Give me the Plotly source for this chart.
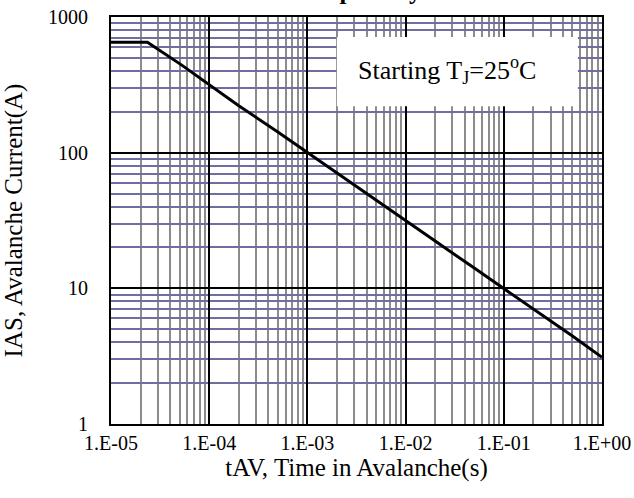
import plotly.graph_objects as go

# Data
t_av = [1e-5, 2.35e-5, 5.3e-5, 1e-4, 2e-4, 5e-4, 1e-3, 2e-3, 5e-3,
        1e-2, 2e-2, 5e-2, 1e-1, 2e-1, 5e-1, 1.0]
i_as = [652, 652, 440, 316, 222, 142, 100, 70.5, 44.5,
        31.5, 22.3, 14.1, 10.0, 7.05, 4.45, 3.1]

x_tickvals = [1e-5, 1e-4, 1e-3, 1e-2, 1e-1, 1]
x_ticktext = ["1.E-05", "1.E-04", "1.E-03", "1.E-02", "1.E-01", "1.E+00"]
y_tickvals = [1, 10, 100, 1000]
y_ticktext = ["1", "10", "100", "1000"]

FONT = "Liberation Serif, Times New Roman, serif"

fig = go.Figure()
fig.add_trace(go.Scatter(x=t_av, y=i_as, mode="lines",
                         line=dict(color="black", width=3), showlegend=False))

fig.update_layout(
    width=634, height=498,
    margin=dict(l=111, r=32, t=17, b=74, autoexpand=False),
    paper_bgcolor="white", plot_bgcolor="white",
    font=dict(family=FONT, color="black", size=20),
)

fig.update_xaxes(
    type="log", range=[-5, 0], automargin=False,
    tickvals=x_tickvals, ticktext=x_ticktext, ticklabeloverflow="allow",
    tickfont=dict(size=20), ticks="", ticklabelstandoff=0,
    showgrid=True, gridcolor="black", gridwidth=1.5,
    minor=dict(dtick="D1", showgrid=True, gridcolor="#8c8c8c", gridwidth=2, ticks=""),
    showline=True, linecolor="black", linewidth=2, mirror=True,
    title=dict(text="tAV, Time in Avalanche(s)", font=dict(size=25), standoff=4),
    zeroline=False,
)
fig.update_yaxes(
    type="log", range=[0, 3], automargin=False,
    tickvals=y_tickvals, ticktext=y_ticktext, ticklabeloverflow="allow",
    tickfont=dict(size=20), ticks="", ticklabelstandoff=17,
    showgrid=True, gridcolor="black", gridwidth=1.5,
    minor=dict(dtick="D1", showgrid=True, gridcolor="#6e6ea0", gridwidth=1.5, ticks=""),
    showline=True, linecolor="black", linewidth=2, mirror=True,
    title=dict(text="IAS, Avalanche Current(A)", font=dict(size=25), standoff=23),
    zeroline=False,
)

# White label box
fig.add_shape(type="rect", xref="paper", yref="paper",
              x0=0.460, x1=0.951, y0=0.781, y1=0.951,
              fillcolor="white", line=dict(width=0), layer="above")
fig.add_annotation(xref="paper", yref="paper", x=0.685, y=0.870,
                   text="Starting T<sub>J</sub>=25<sup>o</sup>C",
                   showarrow=False, font=dict(size=26, family=FONT),
                   xanchor="center", yanchor="middle")

# Title, mostly cut off at the top of the page
fig.add_annotation(xref="paper", yref="paper", x=0.161, y=1,
                   xanchor="left", yanchor="bottom", yshift=11,
                   text="<b>Avalanche Capability</b>", showarrow=False,
                   font=dict(size=25, family=FONT))

# remove the default 8px page margin so the figure sits at the window corner
fig.write_html("out.html", config={"displayModeBar": False},
               post_script="document.body.style.margin='0';")
